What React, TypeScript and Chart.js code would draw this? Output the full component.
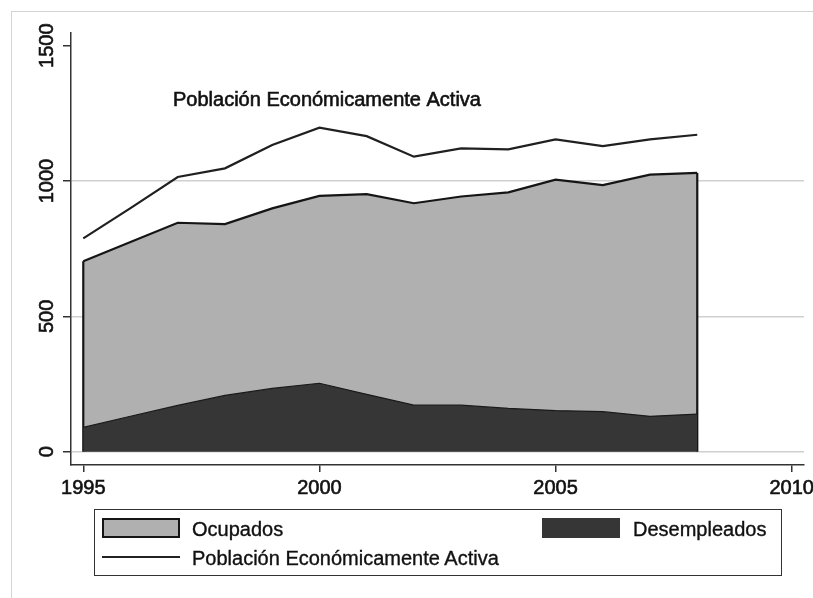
import React, { useEffect, useRef } from "react";
import { Chart, registerables } from "chart.js";

Chart.register(...registerables);

// ---- data ----
const years = [1995, 1996, 1997, 1998, 1999, 2000, 2001, 2002, 2003, 2004, 2005, 2006, 2007, 2008];
const ocupados = [704, 775, 846, 841, 899, 945, 952, 918, 943, 958, 1005, 985, 1024, 1030];
const desempleados = [90, 131, 171, 208, 234, 253, 212, 172, 172, 160, 152, 148, 131, 139];
const pea = [788, 900, 1015, 1047, 1133, 1197, 1166, 1090, 1121, 1117, 1154, 1129, 1154, 1171];
const xTickValues = [1995, 2000, 2005, 2010];
const yTickValues = [0, 500, 1000, 1500];
const yGridValues = [0, 500, 1000];
const seriesNames = ["Ocupados", "Desempleados", "Población Económicamente Activa"];
const annotationText = "Población Económicamente Activa";
const annotationAt = { x: 1996.9, y: 1297 };

const FONT = "'Liberation Sans', Arial, Helvetica, sans-serif";
const TEXT = "#111111";
const GRAY_FILL = "#b0b0b0";
const DARK_FILL = "#363636";
const OUTLINE = "#151515";
const STROKE_W = 0.6;

const edgePlugin = {
  id: "areaEdges",
  afterDatasetDraw(chart: any, args: any) {
    const ds = chart.data.datasets[args.index];
    if (!ds.drawEdges) return;
    const xs = chart.scales.x;
    const ys = chart.scales.y;
    const ctx = chart.ctx;
    const pts = ds.data;
    const first = pts[0];
    const last = pts[pts.length - 1];
    ctx.save();
    ctx.strokeStyle = ds.borderColor;
    ctx.lineWidth = ds.borderWidth;
    [first, last].forEach((p: any) => {
      const px = xs.getPixelForValue(p.x);
      ctx.beginPath();
      ctx.moveTo(px, ys.getPixelForValue(p.y));
      ctx.lineTo(px, ys.getPixelForValue(0));
      ctx.stroke();
    });
    ctx.restore();
  },
};

const textPlugin = {
  id: "extraText",
  afterDraw(chart: any) {
    const ctx = chart.ctx;
    const xs = chart.scales.x;
    const ys = chart.scales.y;
    ctx.save();
    ctx.fillStyle = TEXT;
    ctx.strokeStyle = TEXT;
    ctx.lineWidth = STROKE_W;
    ctx.font = `20px ${FONT}`;
    // rotated y tick labels
    yTickValues.forEach((v) => {
      const py = ys.getPixelForValue(v);
      ctx.save();
      ctx.translate(chart.chartArea.left - 24, py);
      ctx.rotate(-Math.PI / 2);
      ctx.textAlign = "center";
      ctx.textBaseline = "middle";
      ctx.fillText(String(v), 0, 0);
      ctx.strokeText(String(v), 0, 0);
      ctx.restore();
    });
    // annotation
    ctx.textAlign = "left";
    ctx.textBaseline = "middle";
    const ax = xs.getPixelForValue(annotationAt.x);
    const ay = ys.getPixelForValue(annotationAt.y);
    ctx.fillText(annotationText, ax, ay);
    ctx.strokeText(annotationText, ax, ay);
    ctx.restore();
  },
};

function LegendSwatch({ kind }: { kind: "gray" | "dark" | "line" }) {
  if (kind === "line") {
    return <div style={{ width: 78, height: 2, background: "#222", marginTop: 9, marginBottom: 9 }} />;
  }
  return (
    <div
      style={{
        width: 78,
        height: 20,
        boxSizing: "border-box",
        background: kind === "gray" ? GRAY_FILL : DARK_FILL,
        border: `2px solid ${kind === "gray" ? OUTLINE : DARK_FILL}`,
      }}
    />
  );
}

export default function App() {
  const canvasRef = useRef<HTMLCanvasElement | null>(null);

  useEffect(() => {
    if (!canvasRef.current) return;
    const chart = new Chart(canvasRef.current, {
      type: "line",
      data: {
        datasets: [
          {
            label: seriesNames[2],
            data: years.map((x, i) => ({ x, y: pea[i] })),
            borderColor: "#202020",
            borderWidth: 2.2,
            pointRadius: 0,
            fill: false,
            tension: 0,
            order: 1,
          },
          {
            label: seriesNames[1],
            data: years.map((x, i) => ({ x, y: desempleados[i] })),
            borderColor: "#1a1a1a",
            backgroundColor: DARK_FILL,
            borderWidth: 1.2,
            pointRadius: 0,
            fill: "origin",
            tension: 0,
            order: 2,
          },
          {
            label: seriesNames[0],
            data: years.map((x, i) => ({ x, y: ocupados[i] })),
            borderColor: OUTLINE,
            backgroundColor: GRAY_FILL,
            borderWidth: 2.2,
            pointRadius: 0,
            fill: "origin",
            tension: 0,
            order: 3,
            drawEdges: true,
          } as any,
        ],
      },
      options: {
        animation: false,
        responsive: false,
        devicePixelRatio: 1,
        layout: { padding: { top: 33, right: 9, left: 0, bottom: 0 } },
        plugins: { legend: { display: false }, tooltip: { enabled: false } },
        scales: {
          x: {
            type: "linear",
            min: 1994.74,
            max: 2010.26,
            afterBuildTicks: (scale: any) => {
              scale.ticks = xTickValues.map((v) => ({ value: v }));
            },
            afterFit: (scale: any) => {
              scale.height = 133;
              scale.paddingLeft = 0;
              scale.paddingRight = 0;
            },
            ticks: {
              autoSkip: false,
              maxRotation: 0,
              minRotation: 0,
              padding: 4,
              color: TEXT,
              textStrokeColor: TEXT,
              textStrokeWidth: STROKE_W,
              font: { family: FONT, size: 20 },
              callback: (v: any) => String(v),
            },
            grid: {
              drawOnChartArea: false,
              drawTicks: true,
              tickLength: 7,
              color: "#333333",
              lineWidth: 1.5,
            },
            border: { display: true, color: "#333333", width: 1.5 },
          },
          y: {
            type: "linear",
            min: -49,
            max: 1547,
            afterBuildTicks: (scale: any) => {
              scale.ticks = yTickValues.map((v) => ({ value: v }));
            },
            afterFit: (scale: any) => {
              scale.width = 71;
              scale.paddingTop = 0;
              scale.paddingBottom = 0;
            },
            ticks: { display: false },
            grid: {
              drawTicks: true,
              tickLength: 8,
              tickColor: "#333333",
              lineWidth: 1.5,
              color: (ctx: any) =>
                ctx.tick && yGridValues.includes(ctx.tick.value) ? "#d0d0d0" : "rgba(0,0,0,0)",
            },
            border: { display: true, color: "#333333", width: 1.5 },
          },
        },
      } as any,
      plugins: [edgePlugin, textPlugin],
    });
    return () => chart.destroy();
  }, []);

  const labelStyle: React.CSSProperties = {
    position: "absolute",
    fontFamily: FONT,
    fontSize: 20,
    color: TEXT,
    lineHeight: "20px",
    whiteSpace: "nowrap",
    WebkitTextStroke: `${STROKE_W * 0.6}px ${TEXT}`,
  };

  return (
    <div
      style={{
        position: "absolute",
        left: 0,
        top: 0,
        width: 813,
        height: 598,
        overflow: "hidden",
        background: "#ffffff",
      }}
    >
      <div
        style={{
          position: "absolute",
          left: 11,
          top: 11,
          width: 900,
          height: 700,
          borderTop: "1.5px solid #d4d4d4",
          borderLeft: "1.5px solid #d4d4d4",
        }}
      />
      <canvas
        ref={canvasRef}
        width={813}
        height={598}
        style={{ position: "absolute", left: 0, top: 0, width: 813, height: 598 }}
      />
      <div
        style={{
          position: "absolute",
          left: 94,
          top: 509,
          width: 688,
          height: 67,
          boxSizing: "border-box",
          border: "1.5px solid #333",
        }}
      >
        <div style={{ position: "absolute", left: 7, top: 8 }}>
          <LegendSwatch kind="gray" />
        </div>
        <div style={{ ...labelStyle, left: 97, top: 9 }}>{seriesNames[0]}</div>
        <div style={{ position: "absolute", left: 447, top: 8 }}>
          <LegendSwatch kind="dark" />
        </div>
        <div style={{ ...labelStyle, left: 538, top: 9 }}>{seriesNames[1]}</div>
        <div style={{ position: "absolute", left: 7, top: 37 }}>
          <LegendSwatch kind="line" />
        </div>
        <div style={{ ...labelStyle, left: 97, top: 38 }}>{seriesNames[2]}</div>
      </div>
    </div>
  );
}
